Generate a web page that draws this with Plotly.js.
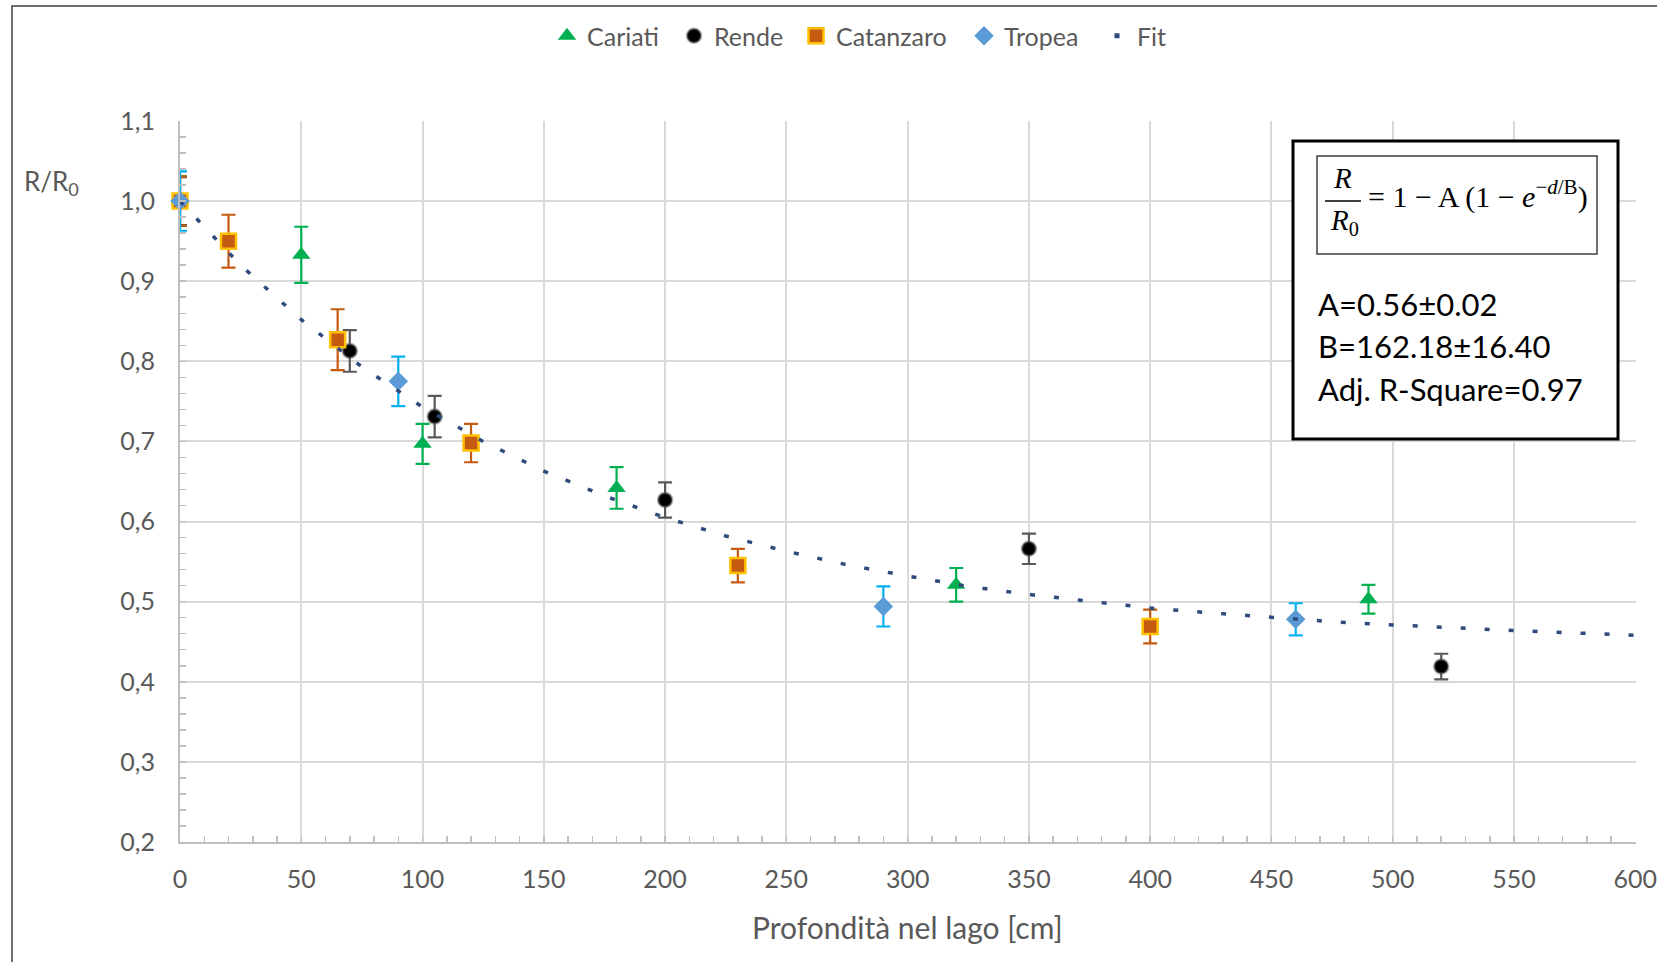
<!DOCTYPE html>
<html>
<head>
<meta charset="utf-8">
<script src="https://cdn.plot.ly/plotly-3.0.1.min.js"></script>
<style>
  html, body { margin: 0; padding: 0; background: #ffffff; }
  #chart { width: 1657px; height: 962px; }
</style>
</head>
<body>
<div id="chart"></div>
<script>
// ---- Data ----
const cariatiX = [0, 50, 100, 180, 320, 490];
const cariatiY = [1.000, 0.933, 0.697, 0.642, 0.521, 0.503];
const cariatiErr = [0.031, 0.035, 0.025, 0.026, 0.021, 0.018];

const rendeX = [0, 70, 105, 200, 350, 520];
const rendeY = [1.000, 0.813, 0.731, 0.627, 0.566, 0.419];
const rendeErr = [0.030, 0.026, 0.026, 0.022, 0.019, 0.016];

const catanzaroX = [0, 20, 65, 120, 230, 400];
const catanzaroY = [1.000, 0.950, 0.827, 0.698, 0.545, 0.469];
const catanzaroErr = [0.031, 0.033, 0.038, 0.024, 0.021, 0.021];

const tropeaX = [0, 90, 290, 460];
const tropeaY = [1.000, 0.775, 0.494, 0.478];
const tropeaErr = [0.037, 0.031, 0.025, 0.020];

// Fit curve, every 25 cm
const fitX = [0, 25, 50, 75, 100, 125, 150, 175, 200, 225, 250, 275, 300,
              325, 350, 375, 400, 425, 450, 475, 500, 525, 550, 575, 600];
const fitY = [1.000, 0.920, 0.852, 0.793, 0.743, 0.700, 0.663, 0.632, 0.605,
              0.582, 0.563, 0.546, 0.532, 0.519, 0.509, 0.500, 0.492, 0.486,
              0.480, 0.475, 0.471, 0.467, 0.464, 0.461, 0.458];

const seriesNames = ["Cariati", "Rende", "Catanzaro", "Tropea", "Fit"];
const xTitle = "Profondità nel lago [cm]";
const yTitle = "R/R<sub>0</sub>";
const paramLines = ["A=0.56±0.02", "B=162.18±16.40", "Adj. R-Square=0.97"];

// ---- Layout helpers (pixel -> paper) ----
const M = { l: 180, r: 21, t: 121, b: 120 };
const W = 1657 - M.l - M.r;
const H = 962 - M.t - M.b;
const PX = p => (p - M.l) / W;
const PY = p => (M.t + H - p) / H;

const FONT = "Lato, 'Open Sans', sans-serif";
const SERIF = "'Liberation Serif', 'DejaVu Serif', serif";
const GRAY = "#595959";

function errBar(arr, color) {
  return { type: "data", array: arr, symmetric: true, visible: true,
           color: color, thickness: 2.2, width: 7 };
}

const traces = [
  {
    x: cariatiX, y: cariatiY, name: seriesNames[0], type: "scatter", mode: "markers",
    legend: "legend", cliponaxis: false,
    marker: { symbol: "triangle-up", size: 16, color: "#00B050" },
    error_y: errBar(cariatiErr, "#00B050")
  },
  {
    x: rendeX, y: rendeY, name: seriesNames[1], type: "scatter", mode: "markers",
    legend: "legend2", cliponaxis: false,
    marker: { symbol: "circle", size: 14, color: "#000000",
              line: { color: "rgba(90,90,90,0.5)", width: 2.5 } },
    error_y: errBar(rendeErr, "#595959")
  },
  {
    x: catanzaroX, y: catanzaroY, name: seriesNames[2], type: "scatter", mode: "markers",
    legend: "legend3", cliponaxis: false,
    marker: { symbol: "square", size: 15, color: "#C55A11",
              line: { color: "#FFC000", width: 2.5 } },
    error_y: errBar(catanzaroErr, "#C55A11")
  },
  {
    x: tropeaX, y: tropeaY, name: seriesNames[3], type: "scatter", mode: "markers",
    legend: "legend4", cliponaxis: false,
    marker: { symbol: "diamond", size: 15, color: "#5B9BD5" },
    error_y: errBar(tropeaErr, "#00B0F0")
  },
  {
    x: fitX, y: fitY, name: seriesNames[4], type: "scatter", mode: "lines",
    line: { color: "#2F4B7C", width: 3.5, dash: "5px,19px" },
    showlegend: false, hoverinfo: "skip", cliponaxis: false
  },
  {
    x: [null], y: [null], name: seriesNames[4], type: "scatter", mode: "markers",
    legend: "legend5",
    marker: { symbol: "square", size: 5, color: "#2F4B7C" },
    showlegend: true
  }
];

function legendAt(markerPx) {
  return {
    orientation: "h", x: PX(markerPx - 20), xanchor: "left", y: PY(36), yanchor: "middle",
    font: { family: FONT, size: 25, color: GRAY },
    bgcolor: "rgba(0,0,0,0)"
  };
}

const axisCommon = {
  showline: true, linecolor: "#BFBFBF", linewidth: 2,
  showgrid: true, gridcolor: "#D9D9D9", gridwidth: 2,
  zeroline: false,
  ticks: "inside", ticklen: 6, tickwidth: 1.5, tickcolor: "#BFBFBF",
  tickfont: { family: FONT, size: 25, color: GRAY },
  ticklabeloverflow: "allow",
  fixedrange: true
};

const layout = {
  width: 1657, height: 962,
  margin: M,
  paper_bgcolor: "#ffffff", plot_bgcolor: "#ffffff",
  separators: ",.",
  font: { family: FONT, color: GRAY },
  showlegend: true,
  legend: legendAt(567),
  legend2: legendAt(694),
  legend3: legendAt(816),
  legend4: legendAt(984),
  legend5: legendAt(1117),
  xaxis: Object.assign({}, axisCommon, {
    range: [0, 600.3], dtick: 50, tick0: 0,
    ticklabelstandoff: 14,
    minor: { dtick: 10, ticks: "inside", ticklen: 6, tickwidth: 1.5, tickcolor: "#BFBFBF", showgrid: false }
  }),
  yaxis: Object.assign({}, axisCommon, {
    range: [0.2, 1.1], dtick: 0.1, tick0: 0.2, tickformat: ".1f",
    ticklabelstandoff: 18,
    minor: { dtick: 0.02, ticks: "inside", ticklen: 6, tickwidth: 1.5, tickcolor: "#BFBFBF", showgrid: false }
  }),
  shapes: [
    // chart border
    { type: "rect", xref: "paper", yref: "paper", x0: PX(12), x1: PX(1720), y0: PY(1010), y1: PY(6),
      line: { color: "#404040", width: 1.5 }, fillcolor: "rgba(0,0,0,0)", layer: "below" },
    // parameter box
    { type: "rect", xref: "paper", yref: "paper", x0: PX(1293), x1: PX(1618), y0: PY(439), y1: PY(141),
      line: { color: "#000000", width: 3 }, fillcolor: "#ffffff", layer: "above" },
    // formula box
    { type: "rect", xref: "paper", yref: "paper", x0: PX(1317), x1: PX(1597), y0: PY(254), y1: PY(156),
      line: { color: "#404040", width: 1.5 }, fillcolor: "rgba(0,0,0,0)", layer: "above" },
    // fraction bar
    { type: "line", xref: "paper", yref: "paper", x0: PX(1325), x1: PX(1361), y0: PY(201), y1: PY(201),
      line: { color: "#000000", width: 1.5 }, layer: "above" }
  ],
  annotations: [
    { text: xTitle, xref: "paper", yref: "paper", x: PX(907), y: PY(927), xanchor: "center", yanchor: "middle",
      showarrow: false, font: { family: FONT, size: 30, color: GRAY } },
    { text: yTitle, xref: "paper", yref: "paper", x: PX(51), y: PY(183), xanchor: "center", yanchor: "middle",
      showarrow: false, font: { family: FONT, size: 26, color: GRAY } },
    { text: "<i>R</i>", xref: "paper", yref: "paper", x: PX(1342), y: PY(178), xanchor: "center", yanchor: "middle",
      showarrow: false, font: { family: SERIF, size: 29, color: "#000000" } },
    { text: "<i>R</i><sub>0</sub>", xref: "paper", yref: "paper", x: PX(1344), y: PY(222), xanchor: "center", yanchor: "middle",
      showarrow: false, font: { family: SERIF, size: 29, color: "#000000" } },
    { text: "= 1 − A (1 − <i>e</i><sup>−<i>d</i>/B</sup>)", xref: "paper", yref: "paper", x: PX(1366), y: PY(195),
      xanchor: "left", yanchor: "middle",
      showarrow: false, font: { family: SERIF, size: 30, color: "#000000" } },
    { text: paramLines[0], xref: "paper", yref: "paper", x: PX(1316), y: PY(304), xanchor: "left", yanchor: "middle",
      showarrow: false, font: { family: FONT, size: 31, color: "#000000" } },
    { text: paramLines[1], xref: "paper", yref: "paper", x: PX(1316), y: PY(346), xanchor: "left", yanchor: "middle",
      showarrow: false, font: { family: FONT, size: 31, color: "#000000" } },
    { text: paramLines[2], xref: "paper", yref: "paper", x: PX(1316), y: PY(389), xanchor: "left", yanchor: "middle",
      showarrow: false, font: { family: FONT, size: 31, color: "#000000" } }
  ]
};

Plotly.newPlot("chart", traces, layout, { staticPlot: true, displayModeBar: false });
</script>
</body>
</html>
